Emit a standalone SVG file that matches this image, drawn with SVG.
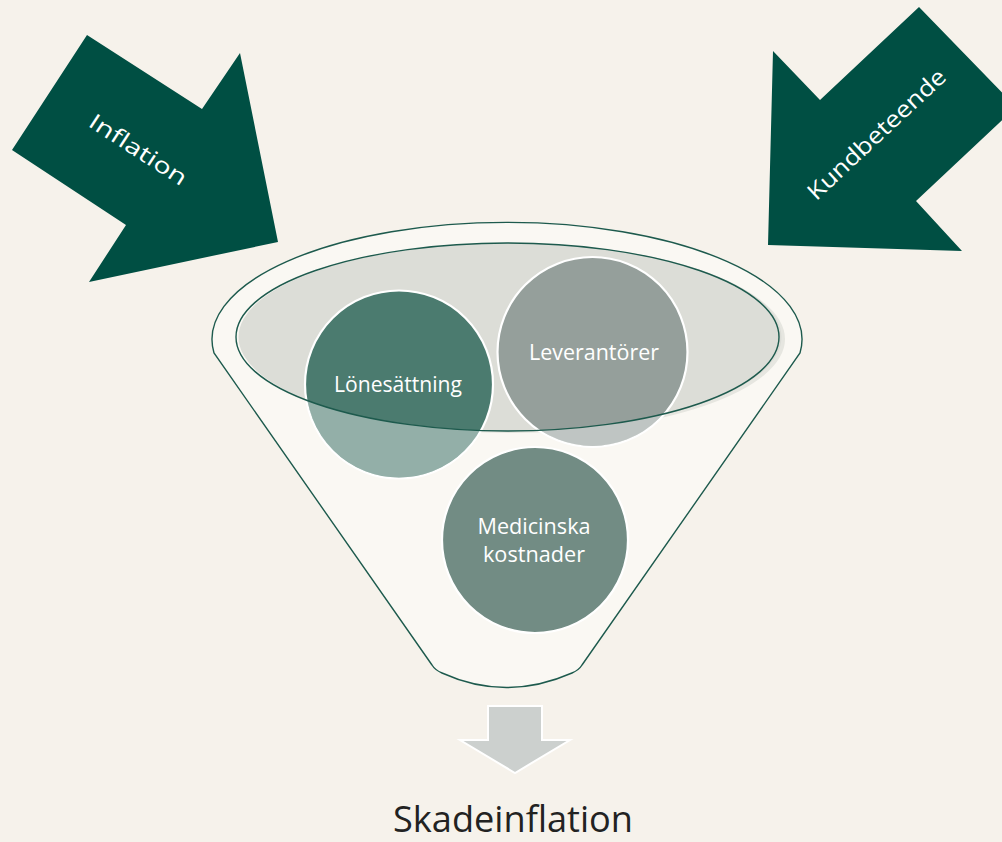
<svg xmlns="http://www.w3.org/2000/svg" width="1002" height="842" viewBox="0 0 1002 842">
<style>
.arrow{fill:#004f43}
.lbl{font-family:"Open Sans","Liberation Sans",sans-serif;fill:#ffffff}
.line{fill:none;stroke:#1d5a4d;stroke-width:1.4}
.ring{stroke:#ffffff;stroke-width:2.2}
</style>
<defs>
<mask id="outside">
<rect x="0" y="0" width="1002" height="842" fill="#fff"/>
<ellipse cx="507.5" cy="337" rx="271.5" ry="94" fill="#000"/>
</mask>
</defs>
<rect x="0" y="0" width="1002" height="842" fill="#f6f2eb"/>

<g id="arrow-inflation">
<polygon class="arrow" points="87,35 202,109 240,53 278,242 89,282 126,225 12,150"/>
<text class="lbl" x="0" y="0" font-size="22" text-anchor="middle" textLength="112" lengthAdjust="spacingAndGlyphs" transform="translate(134,156) rotate(33)">Inflation</text>
</g>

<g id="arrow-kundbeteende">
<polygon class="arrow" points="919,7 1016,107 916,201 962,251 768,245 773,51 820,100"/>
<text class="lbl" x="0" y="0" font-size="23" text-anchor="middle" textLength="180" lengthAdjust="spacingAndGlyphs" transform="translate(882,140) rotate(-43)">Kundbeteende</text>
</g>

<g id="funnel">
<path d="M214,353 A295,117 0 1 1 800,353 L582,665 Q579,670 572,673 Q506,702 442,673 Q435,670 432,665 Z" fill="#faf8f3"/>
<path class="line" d="M214,353 A295,117 0 1 1 800,353 L582,665 Q579,670 572,673 Q506,702 442,673 Q435,670 432,665 Z"/>
<ellipse cx="513" cy="339" rx="272" ry="94" fill="#e6e6e0"/>
<ellipse cx="510" cy="337" rx="271.5" ry="94" fill="#dcddd7"/>
</g>

<g id="node-lonesattning">
<circle class="ring" cx="399" cy="384.5" r="94" fill="#4b7b6f"/>
<circle cx="399" cy="384.5" r="93" fill="#ffffff" fill-opacity="0.4" mask="url(#outside)"/>
<text class="lbl" x="398" y="391.5" font-size="21" text-anchor="middle" textLength="128" lengthAdjust="spacingAndGlyphs">Lönesättning</text>
</g>

<g id="node-leverantorer">
<circle class="ring" cx="592.5" cy="352" r="95" fill="#959f9b"/>
<circle cx="592.5" cy="352" r="94" fill="#ffffff" fill-opacity="0.4" mask="url(#outside)"/>
<text class="lbl" x="594" y="360" font-size="21" text-anchor="middle" textLength="130" lengthAdjust="spacingAndGlyphs">Leverantörer</text>
</g>

<g id="funnel-rim">
<ellipse class="line" cx="507.5" cy="337" rx="271.5" ry="94"/>
</g>

<g id="node-medicinska">
<circle class="ring" cx="535" cy="540" r="93" fill="#728c84"/>
<text class="lbl" x="534" y="534" font-size="21" text-anchor="middle" textLength="113" lengthAdjust="spacingAndGlyphs">Medicinska</text>
<text class="lbl" x="534" y="562" font-size="21" text-anchor="middle" textLength="102" lengthAdjust="spacingAndGlyphs">kostnader</text>
</g>

<g id="connectors">
<polygon points="488,706 542,706 542,740 570,740 515,773 460,740 488,740" fill="#ccd0ce" stroke="#ffffff" stroke-width="2"/>
</g>

<g id="node-skadeinflation">
<text x="513" y="832" font-family="Open Sans, Liberation Sans, sans-serif" font-size="36" fill="#222222" text-anchor="middle" textLength="240" lengthAdjust="spacingAndGlyphs">Skadeinflation</text>
</g>
</svg>
